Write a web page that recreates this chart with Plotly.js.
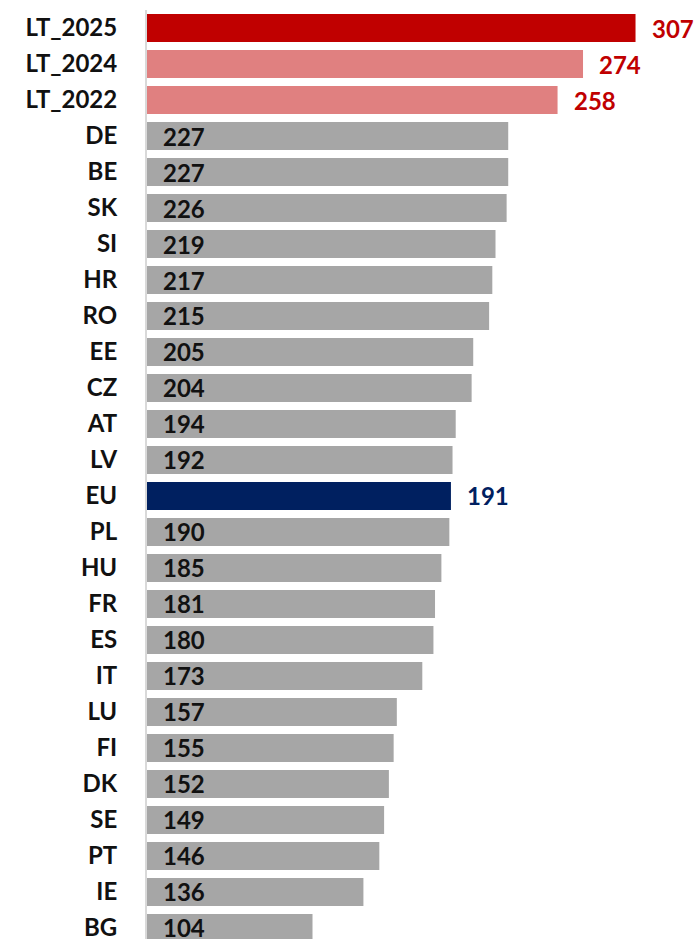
<!DOCTYPE html>
<html>
<head>
<meta charset="utf-8">
<script src="https://cdn.plot.ly/plotly-3.0.1.min.js"></script>
<style>
  html, body { margin: 0; padding: 0; background: #fff; }
  #chart { width: 696px; height: 939px; }
</style>
</head>
<body>
<div id="chart"></div>
<script>
const categories = ['LT_2025', 'LT_2024', 'LT_2022', 'DE', 'BE', 'SK', 'SI', 'HR', 'RO', 'EE', 'CZ', 'AT', 'LV', 'EU',
  'PL', 'HU', 'FR', 'ES', 'IT', 'LU', 'FI', 'DK', 'SE', 'PT', 'IE', 'BG'];
const values = [307, 274, 258, 227, 227, 226, 219, 217, 215, 205, 204, 194, 192, 191,
  190, 185, 181, 180, 173, 157, 155, 152, 149, 146, 136, 104];

// colour per bar and where its value label goes
function barColor(c) {
  if (c === 'LT_2025') return '#c00000';
  if (c.startsWith('LT_')) return '#e08080';
  if (c === 'EU') return '#002060';
  return '#a6a6a6';
}
function labelColor(c) {
  if (c.startsWith('LT_')) return '#c00000';
  if (c === 'EU') return '#002060';
  return '#111111';
}
function labelOutside(c) {
  return c.startsWith('LT_') || c === 'EU';
}

const fontFamily = 'Lato, "Open Sans", sans-serif';

const trace = {
  type: 'bar',
  orientation: 'h',
  x: values,
  y: categories,
  marker: { color: categories.map(barColor) },
  hoverinfo: 'x+y'
};

const annotations = categories.map(function (c, i) {
  const out = labelOutside(c);
  return {
    x: out ? values[i] : 0,
    y: c,
    text: String(values[i]),
    showarrow: false,
    xanchor: 'left',
    xshift: 14,
    yshift: 0,
    font: { family: fontFamily, size: 24, weight: 700, color: labelColor(c) }
  };
});

const layout = {
  width: 696,
  height: 939,
  margin: { l: 147, r: 0, t: 10, b: 0 },
  paper_bgcolor: '#ffffff',
  plot_bgcolor: '#ffffff',
  bargap: 0.222,
  showlegend: false,
  xaxis: {
    range: [0, 345],
    visible: false,
    fixedrange: true
  },
  yaxis: {
    type: 'category',
    range: [25.306, -0.5],
    showline: true,
    linecolor: '#d9d9d9',
    linewidth: 2,
    showgrid: false,
    zeroline: false,
    ticks: '',
    ticklabelstandoff: 23,
    tickfont: { family: fontFamily, size: 24, weight: 700, color: '#111111' },
    fixedrange: true
  },
  annotations: annotations
};

Plotly.newPlot('chart', [trace], layout, { displayModeBar: false, staticPlot: true });
</script>
</body>
</html>
